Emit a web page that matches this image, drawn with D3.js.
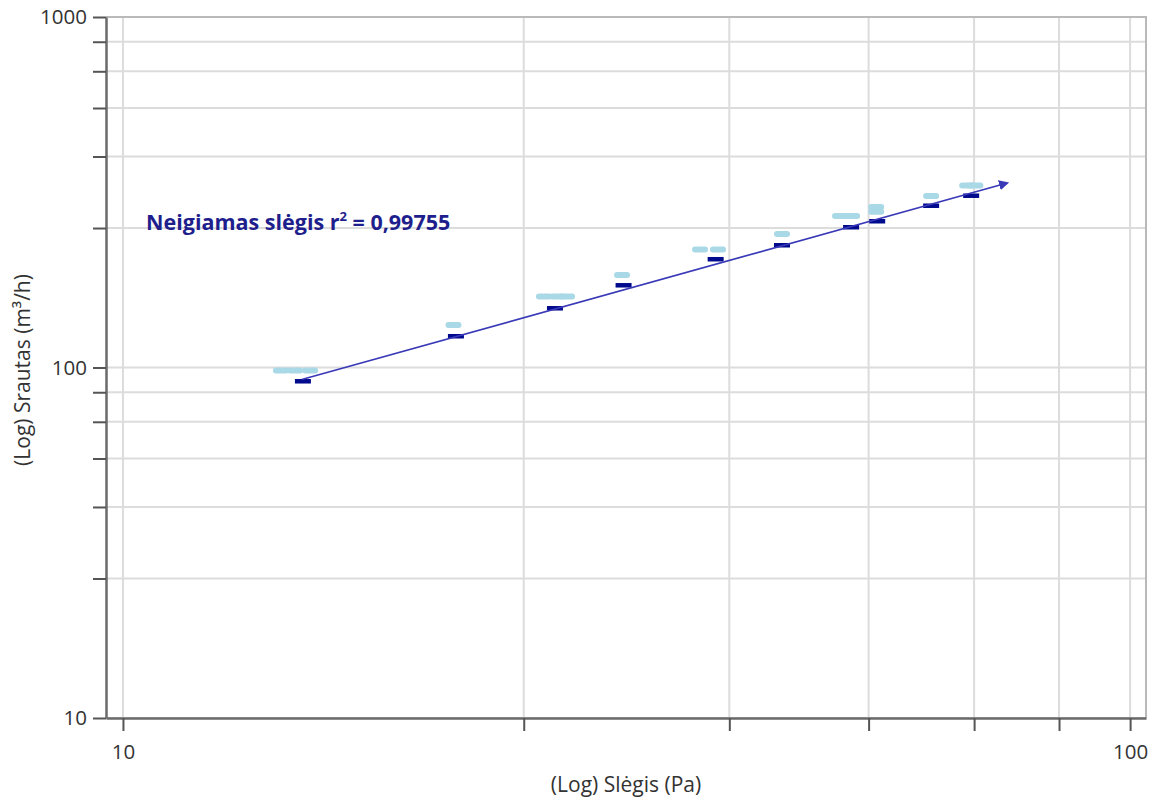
<!DOCTYPE html>
<html>
<head>
<meta charset="utf-8">
<script src="https://cdn.jsdelivr.net/npm/d3@7/dist/d3.min.js"></script>
<style>
  html, body { margin: 0; padding: 0; background: #ffffff; }
  svg { display: block; font-family: "Segoe UI", "Open Sans", "Noto Sans", sans-serif; }
</style>
</head>
<body>
<svg id="chart" width="1152" height="797"></svg>
<script>
// Pressure / flow readings (Pa, m³/h)
const readingPa   = [14.35, 14.82, 15.34, 21.29, 26.18, 26.98, 27.60, 31.30, 37.41, 38.98, 45.12, 51.52, 52.96, 55.96, 55.96, 63.45, 68.9, 70.2];
const readingFlow = [98.0, 98.0, 98.0, 132.2, 159.4, 159.4, 159.4, 183.6, 217.1, 217.1, 240.4, 270.5, 270.5, 287.0, 278.0, 308.6, 330.6, 330.6];

// Corrected points per pressure step
const stepPa   = [15.09, 21.41, 26.85, 31.41, 38.77, 45.12, 52.84, 56.09, 63.45, 69.53];
const stepFlow = [91.5, 123.0, 147.8, 171.9, 204.0, 223.6, 251.7, 261.8, 289.9, 309.6];

// Power-law fit drawn between these end points
const fitPa   = [15.05, 75.5];
const fitFlow = [92.4, 336];

// Axis ticks
const xTickValues = [10, 25, 40, 55, 70, 85, 100];
const yTickValues = [10, 25, 40, 55, 70, 85, 100, 250, 400, 550, 700, 850, 1000];
const labelledTicks = [10, 100, 1000];

const fitLabel = "Neigiamas slėgis r";
const fitLabelValue = " = 0,99755";
const xTitle = "(Log) Slėgis (Pa)";
const yTitle = "(Log) Srautas (m³/h)";

const svg = d3.select("#chart");

const plotLeft = 106, plotRight = 1146, plotTop = 17, plotBottom = 718;

const x = d3.scaleLog().domain([9.62, 103.7]).range([plotLeft, plotRight]);
const y = d3.scaleLog().domain([10, 1000]).range([plotBottom, plotTop]);

// grid
const grid = svg.append("g").attr("stroke", "#dcdcdc").attr("stroke-width", 2);
grid.selectAll(".vg").data(xTickValues).join("line")
  .attr("x1", d => x(d)).attr("x2", d => x(d))
  .attr("y1", plotTop).attr("y2", plotBottom);
grid.selectAll(".hg").data(yTickValues).join("line")
  .attr("x1", plotLeft).attr("x2", plotRight)
  .attr("y1", d => y(d)).attr("y2", d => y(d));

// top / right border
svg.append("path")
  .attr("d", `M${plotLeft},${plotTop}H${plotRight}V${plotBottom}`)
  .attr("fill", "none").attr("stroke", "#b9b9b9").attr("stroke-width", 2);

// readings
svg.append("g").selectAll("rect").data(readingPa).join("rect")
  .attr("x", (d) => x(d) - 8)
  .attr("y", (d, i) => y(readingFlow[i]) - 3)
  .attr("width", 16).attr("height", 6).attr("rx", 3)
  .attr("fill", "#a9d8e6");

// step points
svg.append("g").selectAll("rect").data(stepPa).join("rect")
  .attr("x", (d) => x(d) - 8)
  .attr("y", (d, i) => y(stepFlow[i]) - 2)
  .attr("width", 16).attr("height", 4.5)
  .attr("fill", "#000a8c");

// fit line with arrow head
const defs = svg.append("defs");
defs.append("marker")
  .attr("id", "arrow").attr("viewBox", "0 0 10 10")
  .attr("refX", 8).attr("refY", 5)
  .attr("markerWidth", 6).attr("markerHeight", 6)
  .attr("markerUnits", "strokeWidth")
  .attr("orient", "auto")
  .append("path").attr("d", "M0,0L10,5L0,10Z").attr("fill", "#3a3ab8");

const fitPts = fitPa.map((p, i) => [x(p), y(fitFlow[i])]);
svg.append("path")
  .attr("d", d3.line()(fitPts))
  .attr("fill", "none").attr("stroke", "#3a3ab8").attr("stroke-width", 1.7)
  .attr("marker-end", "url(#arrow)");

// axes
const fmt = d => labelledTicks.includes(d) ? String(d) : "";
const yAxis = svg.append("g").attr("transform", `translate(${plotLeft},0)`)
  .call(d3.axisLeft(y).tickValues(yTickValues).tickFormat(fmt).tickSize(13).tickSizeOuter(0).tickPadding(6));
const xAxis = svg.append("g").attr("transform", `translate(0,${plotBottom})`)
  .call(d3.axisBottom(x).tickValues(xTickValues).tickFormat(fmt).tickSize(13).tickSizeOuter(0).tickPadding(13));

[yAxis, xAxis].forEach(a => {
  a.select(".domain").attr("stroke", "#6a6a6a").attr("stroke-width", 2.5);
  a.selectAll(".tick line").attr("stroke", "#555").attr("stroke-width", 2);
  a.selectAll(".tick text").attr("fill", "#333").style("font-size", "20.5px")
    .style("font-family", "'Segoe UI', 'Open Sans', sans-serif");
});

// titles
svg.append("text")
  .attr("x", (plotLeft + plotRight) / 2).attr("y", 792)
  .attr("text-anchor", "middle").attr("fill", "#333")
  .style("font-size", "21px").text(xTitle);

svg.append("text")
  .attr("transform", `translate(30,370) rotate(-90)`)
  .attr("text-anchor", "middle").attr("fill", "#333")
  .style("font-size", "21px").text(yTitle);

// fit label
const lbl = svg.append("text")
  .attr("x", 146).attr("y", 230)
  .attr("fill", "#1e1e8c").style("font-size", "21.5px").style("font-weight", "bold");
lbl.append("tspan").text(fitLabel);
lbl.append("tspan").attr("dy", -9).style("font-size", "13px").text("2");
lbl.append("tspan").attr("dy", 9).text(fitLabelValue);
</script>
</body>
</html>
